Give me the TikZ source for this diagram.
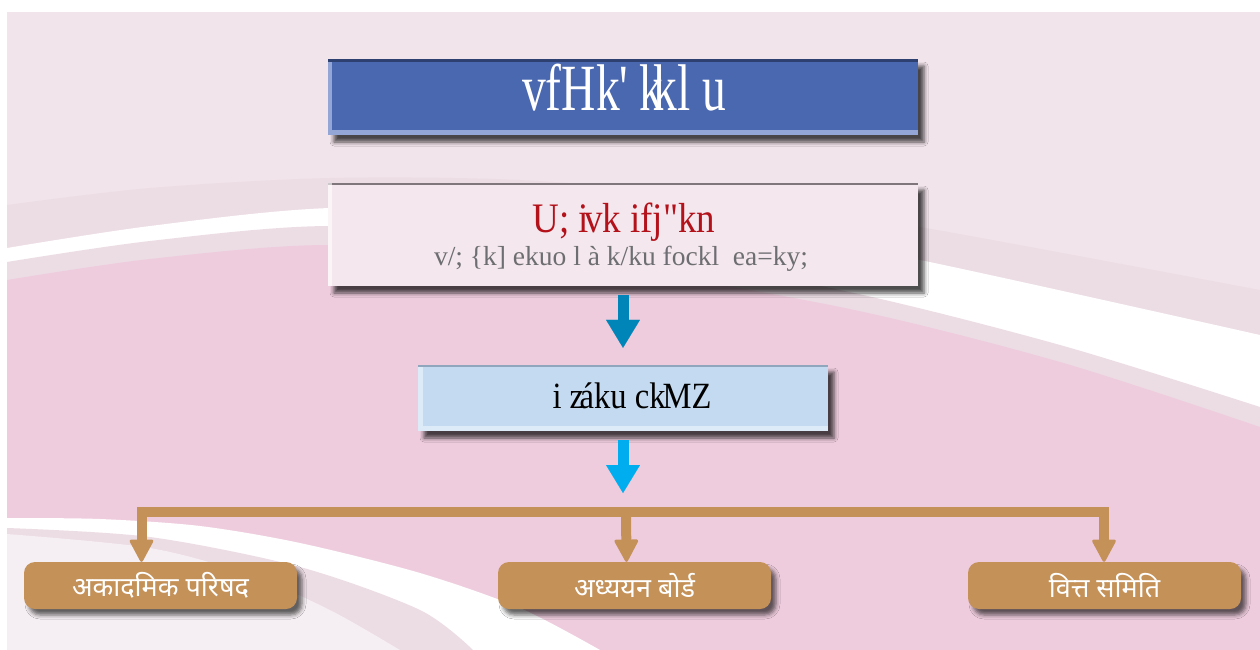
\documentclass[tikz,border=0pt]{standalone}
\usepackage{fontspec}
\setmainfont{Liberation Serif}[Ligatures=TeXOff]
\newfontfamily\titlefont{Liberation Serif}[Ligatures=TeXOff,FakeStretch=0.72]
\newfontfamily\redfont{Liberation Serif}[Ligatures=TeXOff,FakeStretch=0.88]
\newfontfamily\deva[Script=Devanagari]{Noto Sans}
\usetikzlibrary{arrows.meta,shadows.blur}
\definecolor{bgtop}{HTML}{F2E4EB}
\definecolor{bgband}{HTML}{ECDCE4}
\definecolor{bgpink}{HTML}{EECCDD}
\definecolor{bglight}{HTML}{F5EEF2}
\definecolor{titleblue}{HTML}{4A68B0}
\definecolor{titletop}{HTML}{2E406F}
\definecolor{titlehi}{HTML}{94A6D6}
\definecolor{boxpink}{HTML}{F5E7EE}
\definecolor{boxpinkedge}{HTML}{7E767A}
\definecolor{boxblue}{HTML}{C3DAF0}
\definecolor{boxbluehi}{HTML}{DDEBF8}
\definecolor{boxbluetop}{HTML}{8FA6BD}
\definecolor{textred}{HTML}{B3121B}
\definecolor{textgray}{HTML}{6D6E71}
\definecolor{arrowdark}{HTML}{0085B8}
\definecolor{arrowcyan}{HTML}{00AEEF}
\definecolor{tanbrown}{HTML}{C49158}
\tikzset{
  boxshadow/.style={blur shadow={shadow xshift=6pt,shadow yshift=-7pt,shadow blur radius=4pt,shadow opacity=70}},
  smallshadow/.style={blur shadow={shadow xshift=5pt,shadow yshift=-6pt,shadow blur radius=4pt,shadow opacity=60}},
  titlebox/.style={rectangle, fill=titleblue, minimum width=590pt, minimum height=76pt, inner sep=0pt, boxshadow,
    path picture={
      \fill[titlehi] (path picture bounding box.south west) rectangle ([xshift=4pt]path picture bounding box.north west);
      \fill[titlehi] (path picture bounding box.south west) rectangle ([yshift=5pt]path picture bounding box.south east);
      \fill[titletop] (path picture bounding box.north west) rectangle ([yshift=-3pt]path picture bounding box.north east);
    }},
  pinkbox/.style={rectangle, fill=boxpink, minimum width=590pt, minimum height=103pt, inner sep=0pt, boxshadow,
    path picture={
      \fill[boxpinkedge] (path picture bounding box.north west) rectangle ([yshift=-2pt]path picture bounding box.north east);
      \fill[white, opacity=0.6] (path picture bounding box.south west) rectangle ([xshift=4pt]path picture bounding box.north west);
    }},
  bluebox/.style={rectangle, fill=boxblue, minimum width=410pt, minimum height=66pt, inner sep=0pt, boxshadow,
    path picture={
      \fill[boxbluehi] (path picture bounding box.south west) rectangle ([xshift=5pt]path picture bounding box.north west);
      \fill[boxbluehi] (path picture bounding box.south west) rectangle ([yshift=5pt]path picture bounding box.south east);
      \fill[boxbluetop] (path picture bounding box.north west) rectangle ([yshift=-2pt]path picture bounding box.north east);
    }},
  tanbox/.style={rectangle, rounded corners=11pt, fill=tanbrown, minimum width=273pt, minimum height=47pt, inner sep=0pt,
    smallshadow, text=white, font=\deva\fontsize{27}{27}\selectfont},
  darkarrow/.style={draw=arrowdark, line width=11pt, -{Triangle[width=34pt,length=28pt,line width=0.1pt]}},
  cyanarrow/.style={draw=arrowcyan, line width=11pt, -{Triangle[width=34pt,length=28pt,line width=0.1pt]}},
  treeline/.style={draw=tanbrown, line width=10pt, line join=miter, -{Triangle[width=25pt,length=24pt,line width=3pt,round]}},
  plaintext/.style={inner sep=0pt, anchor=base},
}
\begin{document}
\begin{tikzpicture}[x=1pt,y=-1pt]
\useasboundingbox (0,0) rectangle (1260,650);
% background
\fill[white] (0,0) rectangle (1260,650);
\fill[bgtop] (7,12) rectangle (1260,650);
\fill[bgband] plot[smooth] coordinates {(7,205) (150,188) (330,178) (520,180) (720,197) (920,227) (1260,290)} -- (1260,650) -- (7,650) -- cycle;
\fill[white] plot[smooth] coordinates {(7,248) (150,226) (330,208) (560,212) (760,233) (920,260) (1260,335)} -- (1260,650) -- (7,650) -- cycle;
\fill[bgband] plot[smooth] coordinates {(7,262) (150,241) (330,226) (560,240) (840,290) (1060,345) (1260,407)} -- (1260,650) -- (7,650) -- cycle;
\fill[bgpink] plot[smooth] coordinates {(7,280) (150,259) (330,245) (560,260) (840,307) (1060,362) (1260,427)} -- (1260,650) -- (7,650) -- cycle;
\fill[white] plot[smooth] coordinates {(7,518) (100,519) (200,526) (300,543) (420,573) (520,608) (600,650)} -- (7,650) -- cycle;
\fill[bgband] plot[smooth] coordinates {(7,528) (150,537) (300,567) (420,610) (473,650)} -- (7,650) -- cycle;
\fill[bglight] plot[smooth] coordinates {(7,534) (150,548) (250,575) (330,610) (400,650)} -- (7,650) -- cycle;
% boxes
\node[titlebox] (title) at (623,97) {};
\node[plaintext, text=white, font=\titlefont\fontsize{66}{66}\selectfont] (titletext) at (624,111) {vfHk'\,k\kern-0.15em kl\ u};
\node[pinkbox] (box2) at (623,234.5) {};
\node[plaintext, text=textred, font=\redfont\fontsize{42}{42}\selectfont] (redtext) at (624,232) {U; i\kern-0.12em vk ifj"kn};
\node[plaintext, text=textgray, font=\fontsize{27.5}{27.5}\selectfont] (graytext) at (621,265) {v/; \{k] ekuo l à k/ku fockl \ ea=ky;};
\node[bluebox] (box3) at (623,398) {};
\node[plaintext, text=black, font=\redfont\fontsize{37}{37}\selectfont] (bluetext) at (632,408) {i z\kern-0.12em áku ck\kern-0.08em MZ};
\node[tanbox] (A) at (160.5,585.5) {अकादमिक परिषद};
\node[tanbox] (B) at (634.5,585.5) {अध्ययन बोर्ड};
\node[tanbox] (C) at (1104.5,585.5) {वित्त समिति};
% connectors
\coordinate (hub) at (623,493);
\coordinate (bar) at (626,512);
\draw[darkarrow] ([yshift=-9pt]box2.south) -- ([yshift=17pt]box3.north);
\draw[cyanarrow] ([yshift=-9pt]box3.south) -- (hub);
\draw[treeline] (bar) -| ([xshift=-19pt]A.north);
\draw[treeline] (bar) -| ([xshift=-0.5pt]C.north);
\draw[treeline] (bar) -- ([xshift=-8pt]B.north);
\end{tikzpicture}
\end{document}
